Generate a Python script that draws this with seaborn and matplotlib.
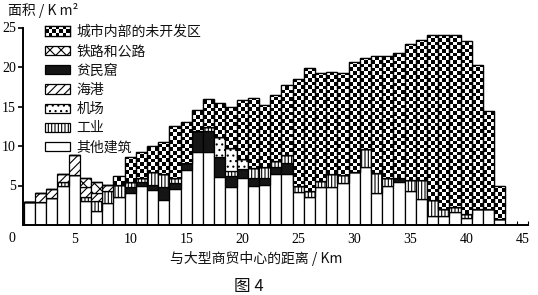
import numpy as np
import matplotlib
matplotlib.use("Agg")
import matplotlib.pyplot as plt
from matplotlib.patches import Patch
import seaborn as sns

# ---------------- data (km from trade centre, area in km^2) ----------------
distance = [1, 2, 3, 4, 5, 6, 7, 8, 9, 10,
            11, 12, 13, 14, 15, 16, 17, 18, 19, 20,
            21, 22, 23, 24, 25, 26, 27, 28, 29, 30,
            31, 32, 33, 34, 35, 36, 37, 38, 39, 40,
            41, 42, 43]
other = [2.9, 2.9, 3.4, 5.0, 6.3, 3.0, 1.8, 2.8, 3.6, 4.1,
         4.9, 4.4, 3.2, 4.5, 6.9, 9.2, 9.2, 6.05, 4.85, 6.0,
         4.9, 5.1, 6.5, 6.4, 4.2, 3.6, 4.8, 4.8, 5.3, 6.7,
         7.4, 4.0, 5.0, 5.5, 4.3, 3.35, 1.1, 1.15, 1.7, 0.9,
         2.0, 2.0, 0.8]
slum = [0, 0, 0, 0, 0, 0, 0, 0, 0, 0.7,
        0.5, 0.7, 1.6, 0.8, 0.9, 2.7, 2.7, 2.5, 1.3, 1.1,
        1.0, 0.8, 0.8, 1.4, 0, 0, 0, 0, 0, 0,
        0, 0, 0, 0.5, 0, 0, 0, 0, 0, 0,
        0, 0, 0]
industry = [0, 0, 0, 0.5, 0, 0.6, 1.2, 1.5, 1.5, 0.7,
            0.5, 1.6, 1.6, 0.6, 0, 0, 0.5, 0, 0.7, 0,
            1.3, 1.5, 0.8, 1.1, 0.7, 0.7, 0.8, 1.7, 1.0, 0,
            2.2, 2.6, 0.9, 0, 1.4, 2.35, 2.1, 0.9, 0.55, 0.5,
            0, 0, 0]
airport = [0, 0, 0, 0, 0, 0, 0, 0, 0, 0,
           0, 0, 0, 0, 0, 0, 0, 2.6, 2.9, 1.2,
           0, 0, 0, 0, 0, 0, 0, 0, 0, 0,
           0, 0, 0, 0, 0, 0, 0, 0, 0, 0,
           0, 0, 0]
port = [0, 1.1, 1.2, 0.9, 2.5, 1.2, 1.1, 0.8, 0, 0,
        0, 0, 0, 0, 0, 0, 0, 0, 0, 0,
        0, 0, 0, 0, 0, 0, 0, 0, 0, 0,
        0, 0, 0, 0, 0, 0, 0, 0, 0, 0,
        0, 0, 0]
road = [0, 0, 0, 0, 0, 1.2, 1.3, 0, 0, 0,
        0, 0, 0, 0, 0, 0, 0, 0, 0, 0,
        0, 0, 0, 0, 0, 0, 0, 0, 0, 0,
        0, 0, 0, 0, 0, 0, 0, 0, 0, 0,
        0, 0, 0]
undeveloped = [0, 0, 0, 0, 0, 0, 0, 0, 1.1, 3.1,
               3.3, 3.3, 4.1, 6.6, 5.3, 2.6, 3.5, 4.35, 5.25, 7.5,
               8.9, 7.85, 8.3, 8.8, 13.6, 15.6, 13.7, 12.85, 12.9, 13.9,
               11.5, 14.8, 15.5, 15.8, 17.2, 17.7, 20.8, 21.95, 21.85, 21.9,
               18.3, 12.4, 4.2]

cat_names = ["其他建筑", "贫民窟", "工业", "机场", "海港", "铁路和公路", "城市内部的未开发区"]
legend_order = ["城市内部的未开发区", "铁路和公路", "贫民窟", "海港", "机场", "工业", "其他建筑"]
x_ticks = [5, 10, 15, 20, 25, 30, 35, 40, 45]
y_ticks = [5, 10, 15, 20, 25]

# ---------------- style ----------------
sns.set_theme(style="ticks")
plt.rcParams["font.family"] = ["Noto Sans CJK SC", "DejaVu Sans"]
plt.rcParams["hatch.linewidth"] = 0.8
plt.rcParams["hatch.color"] = "black"

styles = {
    "其他建筑": ("white", ""),
    "贫民窟": ("#151515", ""),
    "工业": ("white", "|||||"),
    "机场": ("white", "..."),
    "海港": ("white", "////"),
    "铁路和公路": ("white", "xxx"),
    "城市内部的未开发区": ("white", ""),
}
series = [other, slum, industry, airport, port, road, undeveloped]

W, H = 538, 295
fig = plt.figure(figsize=(W / 100, H / 100), dpi=100)
ax = fig.add_axes([22.7 / W, 70 / H, (527.9 - 22.7) / W, 197.5 / H])

bottom = np.zeros(len(distance))
containers = []
bottoms = []
for name, vals in zip(cat_names, series):
    fc, h = styles[name]
    sns.barplot(x=distance, y=vals, bottom=bottom.copy(), native_scale=True,
                width=1.0, errorbar=None, saturation=1, color=fc,
                edgecolor="black", linewidth=0.9, hatch=(h if h else None), ax=ax)
    containers.append(ax.containers[-1])
    bottoms.append(bottom.copy())
    bottom = bottom + np.array(vals, dtype=float)

# checkerboard fill for the undeveloped land
ny, nx = 54, 135
yy, xx = np.mgrid[0:ny, 0:nx]
checker = (xx + yy) % 2
for p in containers[-1].patches:
    if p.get_height() <= 0:
        continue
    im = ax.imshow(checker, extent=(0.5, 45.5, 0, 25), origin="lower", cmap="gray_r",
                   vmin=0, vmax=1, interpolation="nearest", aspect="auto",
                   zorder=p.get_zorder() + 0.01)
    im.set_clip_path(p)
ax.bar(distance, undeveloped, bottom=bottoms[-1], width=1.0, fill=False,
       edgecolor="black", linewidth=0.9, zorder=1.2)

# ---------------- axes ----------------
ax.set_aspect("auto")
ax.set_xlim(0.4, 45.5)
ax.set_ylim(0, 25)
sns.despine(ax=ax)
for s in ("left", "bottom"):
    ax.spines[s].set_linewidth(1.4)
    ax.spines[s].set_color("black")
ax.set_yticks(y_ticks)
ax.set_yticklabels([str(v) for v in y_ticks])
ax.tick_params(axis="y", direction="out", length=3.5, width=1.2, pad=1.5,
               labelsize=10, colors="black")
ax.set_xticks(x_ticks)
ax.set_xticklabels([str(v) for v in x_ticks])
ax.set_xticks(np.arange(0.5, 45.6, 1.0), minor=True)
ax.tick_params(axis="x", which="major", length=0, pad=6, labelsize=10, colors="black")
ax.tick_params(axis="x", which="minor", direction="in", length=3, width=0.8, color="black")
for lab in ax.get_xticklabels() + ax.get_yticklabels():
    lab.set_family("Liberation Serif")
ax.set_xlabel("")
ax.set_ylabel("")
ax.text(-0.55, -6 / 197.5 - 0.5 / 197.5, "0", transform=ax.get_xaxis_transform(),
        ha="center", va="top", fontsize=10, family="Liberation Serif", color="black")

# ---------------- legend ----------------
handles = []
for name in legend_order:
    fc, h = styles[name]
    handles.append(Patch(facecolor=fc, edgecolor="black", hatch=(h if h else None),
                         linewidth=0.9, label=name))
leg = ax.legend(handles=handles, labels=legend_order, loc="upper left",
                bbox_to_anchor=(45 / W, 1 - 25 / H), bbox_transform=fig.transFigure,
                frameon=False, fontsize=10, handlelength=1.8, handleheight=0.65,
                handletextpad=0.45, labelspacing=0.38, borderpad=0, borderaxespad=0)
for t in leg.get_texts():
    t.set_color("#111111")

# ---------------- titles ----------------
fig.text(8 / W, 1 - 10 / H, "面积 / K m²", ha="left", va="center", fontsize=10, color="#111111")
fig.text(256 / W, 1 - 258 / H, "与大型商贸中心的距离 / Km", ha="center", va="center",
         fontsize=10, color="#111111")
fig.text(249 / W, 1 - 287 / H, "图 4", ha="center", va="center", fontsize=12, color="#111111")

# checker swatch in the legend
fig.canvas.draw()
bb = leg.get_patches()[0].get_window_extent()
sw = fig.add_axes([bb.x0 / W, bb.y0 / H, bb.width / W, bb.height / H])
sw.imshow(checker[:3, :7], cmap="gray_r", vmin=0, vmax=1, interpolation="nearest", aspect="auto")
sw.set_xticks([])
sw.set_yticks([])
for s in sw.spines.values():
    s.set_visible(True)
    s.set_linewidth(0.9)
    s.set_color("black")

fig.savefig("out.png", dpi=100)
